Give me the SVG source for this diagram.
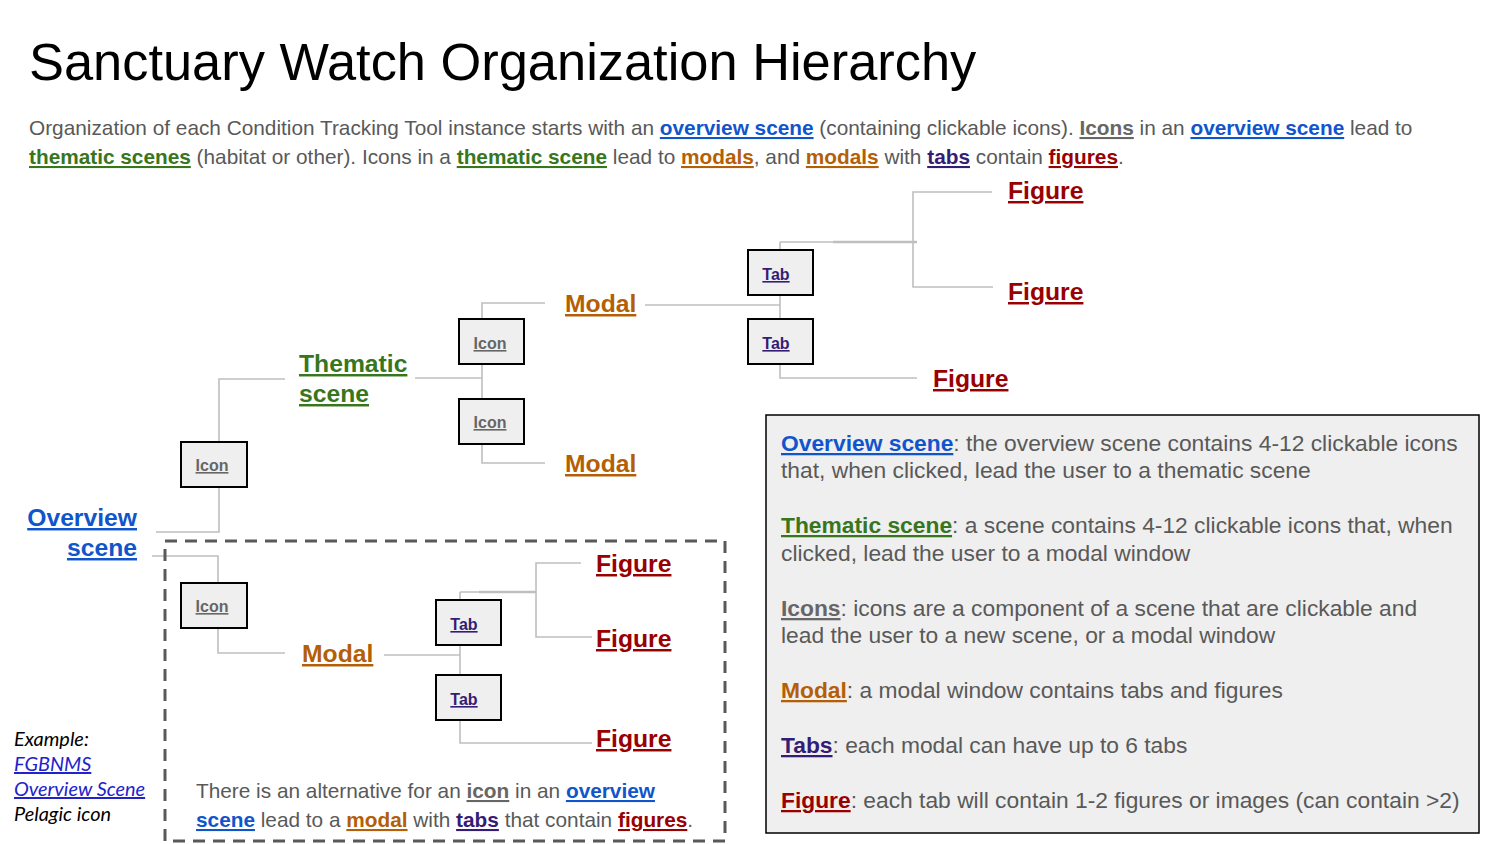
<svg xmlns="http://www.w3.org/2000/svg" width="1500" height="844" viewBox="0 0 1500 844">
<style>
text{font-family:"Liberation Sans",Arial,sans-serif}
.t{fill:#595959}
.b{font-weight:bold;text-decoration:underline}
.ov{fill:#1155cc}.th{fill:#38761d}.ic{fill:#666666}.mo{fill:#b45f06}.tb{fill:#351c75}.fg{fill:#990000}
.node{font-size:24.7px;font-weight:bold;text-decoration:underline}
.box rect{fill:#efefef;stroke:#000;stroke-width:2}
.box text{font-size:16px;font-weight:bold;text-decoration:underline;text-anchor:middle}
.conn{fill:none;stroke:#bfbfbf;stroke-width:1.6}
.ex{font-family:Lato,"Open Sans",sans-serif;font-style:italic;font-size:19.9px;fill:#000}
</style>
<rect width="1500" height="844" fill="#ffffff"/>
<text x="29" y="80" font-size="52.4" fill="#000">Sanctuary Watch Organization Hierarchy</text>
<g id="subtitle" font-size="20.8">
<text class="t" x="29" y="135">Organization of each Condition Tracking Tool instance starts with an <tspan class="b ov">overview scene</tspan> (containing clickable icons). <tspan class="b ic">Icons</tspan> in an <tspan class="b ov">overview scene</tspan> lead to</text>
<text class="t" x="29" y="164"><tspan class="b th">thematic scenes</tspan> (habitat or other). Icons in a <tspan class="b th">thematic scene</tspan> lead to <tspan class="b mo">modals</tspan>, and <tspan class="b mo">modals</tspan> with <tspan class="b tb">tabs</tspan> contain <tspan class="b fg">figures</tspan>.</text>
</g>
<g id="connectors" class="conn">
<polyline points="156,532 219,532 219,487"/>
<polyline points="219,442 219,379 285,379"/>
<polyline points="415,378 482,378"/>
<polyline points="545,303 482,303 482,463 545,463"/>
<polyline points="645,305 780,305"/>
<polyline points="780,242 780,378 917,378"/>
<polyline points="780,242 913,242"/>
<line x1="833" y1="242" x2="917" y2="242" stroke-width="2.6"/>
<polyline points="992,192 913,192 913,287 993,287"/>
<polyline points="152,556 218,556 218,583"/>
<polyline points="218,628 218,653 285,653"/>
<polyline points="384,655 460,655"/>
<polyline points="460,592 460,743 592,743"/>
<polyline points="460,592 536,592"/>
<line x1="479" y1="592" x2="536" y2="592" stroke-width="2.6"/>
<polyline points="581,563 536,563 536,637 592,637"/>
</g>
<rect id="alt-region" x="165" y="541" width="560" height="300" fill="none" stroke="#595959" stroke-width="3" stroke-dasharray="12 8"/>
<g id="overview"><text class="node ov" text-anchor="end"><tspan x="137" y="526">Overview</tspan><tspan x="137" y="556">scene</tspan></text></g>
<g id="thematic"><text class="node th"><tspan x="299" y="372">Thematic</tspan><tspan x="299" y="402">scene</tspan></text></g>
<g id="icon1" class="box"><rect x="181" y="442" width="66" height="45"/><text class="ic" x="212" y="471">Icon</text></g>
<g id="icon2" class="box"><rect x="459" y="319" width="65" height="45"/><text class="ic" x="490" y="349">Icon</text></g>
<g id="icon3" class="box"><rect x="459" y="399" width="65" height="45"/><text class="ic" x="490" y="428">Icon</text></g>
<g id="icon4" class="box"><rect x="181" y="583" width="66" height="45"/><text class="ic" x="212" y="612">Icon</text></g>
<g id="modal1"><text class="node mo" x="565" y="312">Modal</text></g>
<g id="modal2"><text class="node mo" x="565" y="472">Modal</text></g>
<g id="modal3"><text class="node mo" x="302" y="662">Modal</text></g>
<g id="tab1" class="box"><rect x="748" y="250" width="65" height="45"/><text class="tb" x="776" y="280">Tab</text></g>
<g id="tab2" class="box"><rect x="748" y="319" width="65" height="45"/><text class="tb" x="776" y="349">Tab</text></g>
<g id="tab3" class="box"><rect x="436" y="600" width="65" height="45"/><text class="tb" x="464" y="630">Tab</text></g>
<g id="tab4" class="box"><rect x="436" y="675" width="65" height="45"/><text class="tb" x="464" y="705">Tab</text></g>
<g id="fig1"><text class="node fg" x="1008" y="199">Figure</text></g>
<g id="fig2"><text class="node fg" x="1008" y="300">Figure</text></g>
<g id="fig3"><text class="node fg" x="933" y="387">Figure</text></g>
<g id="fig4"><text class="node fg" x="596" y="572">Figure</text></g>
<g id="fig5"><text class="node fg" x="596" y="647">Figure</text></g>
<g id="fig6"><text class="node fg" x="596" y="747">Figure</text></g>
<g id="alt-text" font-size="20.8">
<text class="t" x="196" y="798">There is an alternative for an <tspan class="b ic">icon</tspan> in an <tspan class="b ov">overview</tspan></text>
<text class="t" x="196" y="827"><tspan class="b ov">scene</tspan> lead to a <tspan class="b mo">modal</tspan> with <tspan class="b tb">tabs</tspan> that contain <tspan class="b fg">figures</tspan>.</text>
</g>
<g id="legend" font-size="22.8">
<rect x="766" y="415" width="713" height="418" fill="#efefef" stroke="#000" stroke-width="1.5"/>
<text class="t" x="781" y="451"><tspan class="b ov">Overview scene</tspan>: the overview scene contains 4-12 clickable icons</text>
<text class="t" x="781" y="478">that, when clicked, lead the user to a thematic scene</text>
<text class="t" x="781" y="533"><tspan class="b th">Thematic scene</tspan>: a scene contains 4-12 clickable icons that, when</text>
<text class="t" x="781" y="561">clicked, lead the user to a modal window</text>
<text class="t" x="781" y="616"><tspan class="b ic">Icons</tspan>: icons are a component of a scene that are clickable and</text>
<text class="t" x="781" y="643">lead the user to a new scene, or a modal window</text>
<text class="t" x="781" y="698"><tspan class="b mo">Modal</tspan>: a modal window contains tabs and figures</text>
<text class="t" x="781" y="753"><tspan class="b tb">Tabs</tspan>: each modal can have up to 6 tabs</text>
<text class="t" x="781" y="808"><tspan class="b fg">Figure</tspan>: each tab will contain 1-2 figures or images (can contain &gt;2)</text>
</g>
<g id="example">
<text class="ex" x="14" y="746">Example:</text>
<text class="ex" x="14" y="771" style="fill:#2222cc;text-decoration:underline">FGBNMS</text>
<text class="ex" x="14" y="796" style="fill:#2222cc;text-decoration:underline">Overview Scene</text>
<text class="ex" x="14" y="821">Pelagic icon</text>
</g>
</svg>
